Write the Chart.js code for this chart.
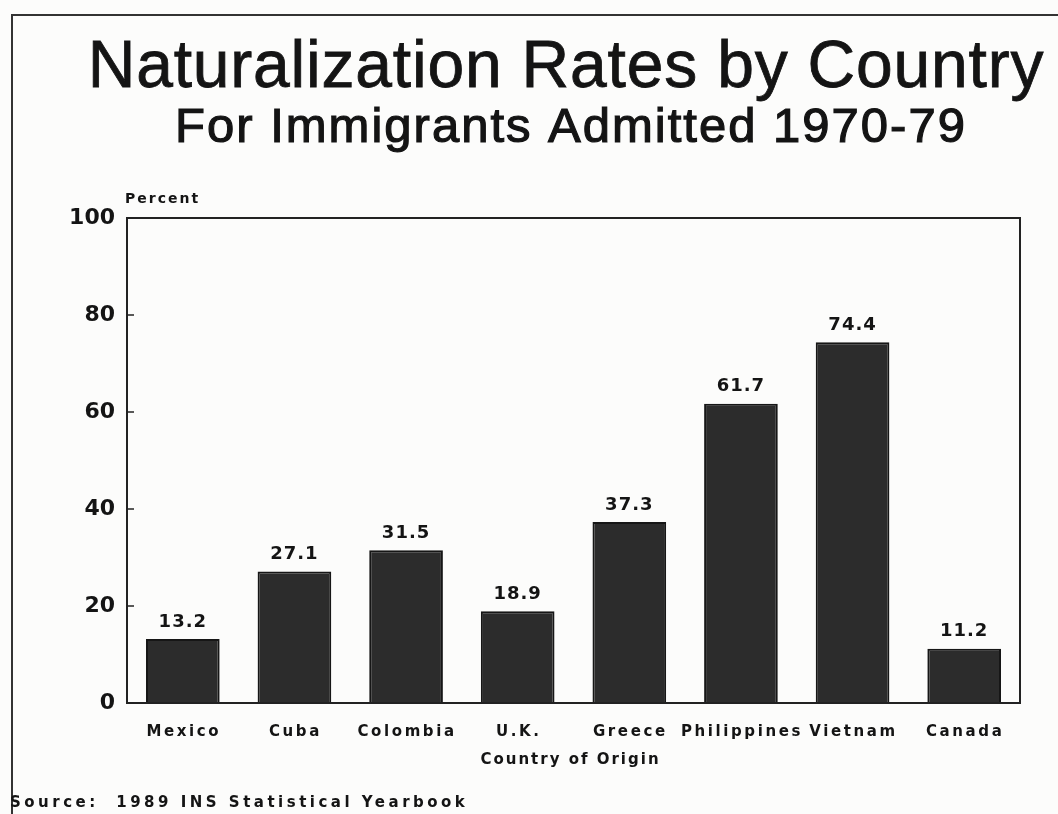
<!DOCTYPE html>
<html>
<head>
<meta charset="utf-8">
<script src="https://cdn.jsdelivr.net/npm/chart.js@4"></script>
<style>
  html, body { margin: 0; padding: 0; background: #fcfcfb; }
  #wrap { position: relative; width: 1058px; height: 814px; overflow: hidden; }
  #frame { position: absolute; left: 11px; top: 14px; width: 1100px; height: 900px; border: 2px solid #333; }
  canvas { position: absolute; left: 0; top: 0; }
</style>
</head>
<body>
<div id="wrap">
  <div id="frame"></div>
  <canvas id="myChart" width="1058" height="814"></canvas>
</div>
<script>
const countries = ["Mexico", "Cuba", "Colombia", "U.K.", "Greece", "Philippines", "Vietnam", "Canada"];
const rates = [13.2, 27.1, 31.5, 18.9, 37.3, 61.7, 74.4, 11.2];
const yTicks = [0, 20, 40, 60, 80, 100];

const ink = "#141414";
const sans = "'Liberation Sans', Arial, sans-serif";
const smallBold = "'DejaVu Sans', sans-serif";

// headings, box around the plot, inward ticks, spaced-out labels and the loose texts
const extras = {
  id: "extras",
  afterDraw(chart) {
    const { ctx, chartArea: a, scales } = chart;
    ctx.save();
    ctx.fillStyle = ink;
    ctx.strokeStyle = ink;
    ctx.textAlign = "center";
    ctx.textBaseline = "alphabetic";
    ctx.letterSpacing = "0.8px";
    ctx.font = "66px " + sans;
    ctx.lineWidth = 0.8;
    ctx.fillText("Naturalization Rates by Country", 566, 87);
    ctx.strokeText("Naturalization Rates by Country", 566, 87);
    ctx.letterSpacing = "2px";
    ctx.font = "49px " + sans;
    ctx.lineWidth = 1.2;
    ctx.fillText("For Immigrants Admitted 1970-79", 571, 142);
    ctx.strokeText("For Immigrants Admitted 1970-79", 571, 142);

    ctx.strokeStyle = "#222";
    ctx.lineWidth = 2;
    ctx.strokeRect(a.left, a.top, a.right - a.left, a.bottom - a.top);

    ctx.lineWidth = 1.5;
    yTicks.forEach(v => {
      const y = scales.y.getPixelForValue(v);
      ctx.beginPath();
      ctx.moveTo(a.left, y);
      ctx.lineTo(a.left + 7, y);
      ctx.stroke();
    });

    ctx.textBaseline = "bottom";
    ctx.letterSpacing = "1px";
    ctx.font = "bold 18px " + smallBold;
    chart.getDatasetMeta(0).data.forEach((bar, i) => {
      ctx.fillText(rates[i].toFixed(1), bar.x, bar.y - 8);
    });

    // category names under the bars, widely spaced
    ctx.textBaseline = "middle";
    ctx.letterSpacing = "2.6px";
    ctx.font = "bold 15px " + smallBold;
    countries.forEach((c, i) => {
      ctx.fillText(c, scales.x.getPixelForTick(i) + 1, a.bottom + 29);
    });
    ctx.letterSpacing = "2px";
    ctx.fillText("Country of Origin", (a.left + a.right) / 2 - 3, 760);

    ctx.textAlign = "left";
    ctx.letterSpacing = "2px";
    ctx.font = "bold 14px " + smallBold;
    ctx.fillText("Percent", a.left - 2, 199);
    ctx.font = "bold 15px " + smallBold;
    ctx.letterSpacing = "3.5px";
    ctx.fillText("Source:  1989 INS Statistical Yearbook", 10, 803);
    ctx.restore();
  }
};

new Chart(document.getElementById("myChart"), {
  type: "bar",
  data: {
    labels: countries,
    datasets: [{
      data: rates,
      backgroundColor: "#2c2c2c",
      borderColor: "#161616",
      borderWidth: 2,
      barPercentage: 0.66,
      categoryPercentage: 1
    }]
  },
  options: {
    responsive: false,
    animation: false,
    layout: { padding: { left: 0, right: 38, top: 218, bottom: 0 } },
    plugins: {
      legend: { display: false },
      tooltip: { enabled: false }
    },
    scales: {
      x: {
        grid: { display: false },
        border: { display: false },
        ticks: { display: false },
        afterFit(scale) { scale.height = 111; }
      },
      y: {
        min: 0,
        max: 100,
        grid: { display: false },
        border: { display: false },
        afterBuildTicks(scale) { scale.ticks = yTicks.map(v => ({ value: v })); },
        ticks: {
          color: ink,
          padding: 4,
          font: { family: smallBold, size: 22, weight: "bold" }
        },
        afterFit(scale) { scale.width = 127; }
      }
    }
  },
  plugins: [extras]
});
</script>
</body>
</html>
